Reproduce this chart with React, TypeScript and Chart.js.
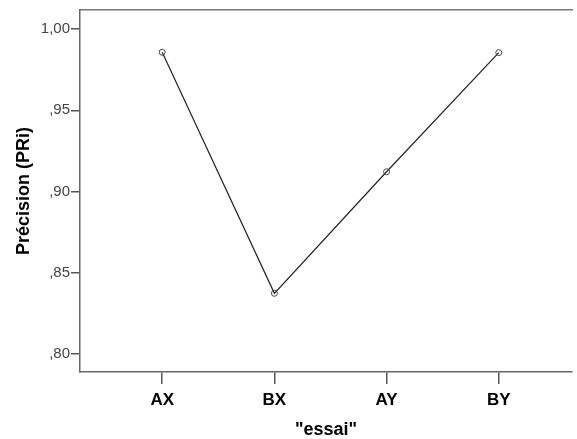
import React, { useEffect, useRef } from "react";
import { Chart, registerables } from "chart.js";

Chart.register(...registerables);

const categories = ["AX", "BX", "AY", "BY"];
const precision = [0.9857, 0.8374, 0.9122, 0.9855];
const yTicks = [0.8, 0.85, 0.9, 0.95, 1.0];
const yTickLabels = [",80", ",85", ",90", ",95", "1,00"];
const xTitle = '"essai"';
const yTitle = "Précision (PRi)";

export default function App() {
  const ref = useRef<HTMLCanvasElement | null>(null);
  useEffect(() => {
    if (!ref.current) return;
    const chart = new Chart(ref.current, {
      type: "line",
      data: {
        datasets: [
          {
            data: precision.map((v, i) => ({ x: i, y: v })),
            borderColor: "#222222",
            borderWidth: 1.2,
            pointRadius: 3,
            pointBorderWidth: 1,
            pointBorderColor: "#444444",
            pointBackgroundColor: "rgba(255,255,255,0)",
            tension: 0,
          },
        ],
      },
      options: {
        responsive: false,
        animation: false,
        layout: { padding: 0 },
        plugins: { legend: { display: false }, tooltip: { enabled: false } },
        scales: {
          x: {
            type: "linear",
            position: "bottom",
            min: -0.7325,
            max: 3.6525,
            afterBuildTicks: (s: any) => {
              s.ticks = categories.map((_, i) => ({ value: i }));
            },
            afterFit: (s: any) => {
              s.height = 67;
            },
            ticks: {
              callback: (v: any) => categories[v as number] ?? "",
              font: { family: "Liberation Sans", size: 17, weight: "bold" },
              color: "#000000",
              padding: 6,
              maxRotation: 0,
              autoSkip: false,
            },
            grid: { drawOnChartArea: false, drawTicks: true, tickLength: 12, color: "#555555", lineWidth: 1.5 },
            border: { color: "#666666", width: 1.5 },
            title: {
              display: true,
              text: xTitle,
              font: { family: "Liberation Sans", size: 18, weight: "bold", lineHeight: 1.0 },
              color: "#000000",
              padding: { top: 0, bottom: 0 },
            },
          },
          x2: {
            type: "linear",
            position: "top",
            min: 0,
            max: 1,
            afterFit: (s: any) => {
              s.height = 10;
            },
            ticks: { display: false },
            grid: { display: false },
            border: { color: "#777777", width: 1.5 },
          },
          y: {
            type: "linear",
            min: 0.789,
            max: 1.0117,
            afterBuildTicks: (s: any) => {
              s.ticks = yTicks.map((v) => ({ value: v }));
            },
            afterFit: (s: any) => {
              s.width = 80;
            },
            ticks: {
              callback: (v: any) => {
                const i = yTicks.findIndex((t) => Math.abs(t - (v as number)) < 1e-6);
                return i >= 0 ? yTickLabels[i] : "";
              },
              font: { family: "Liberation Sans", size: 15 },
              color: "#444444",
              padding: 1,
            },
            grid: { drawOnChartArea: false, drawTicks: true, tickLength: 9, color: "#555555", lineWidth: 1.5 },
            border: { color: "#666666", width: 1.5 },
            title: {
              display: true,
              text: yTitle,
              font: { family: "Liberation Sans", size: 18, weight: "bold" },
              color: "#000000",
              padding: { top: 13, bottom: 0 },
            },
          },
        },
      },
    } as any);
    return () => chart.destroy();
  }, []);
  return (
    <div
      style={{
        position: "fixed",
        left: 0,
        top: 0,
        width: 577,
        height: 439,
        overflow: "hidden",
        background: "#ffffff",
      }}
    >
      <canvas ref={ref} width={577} height={439} style={{ display: "block" }} />
    </div>
  );
}
